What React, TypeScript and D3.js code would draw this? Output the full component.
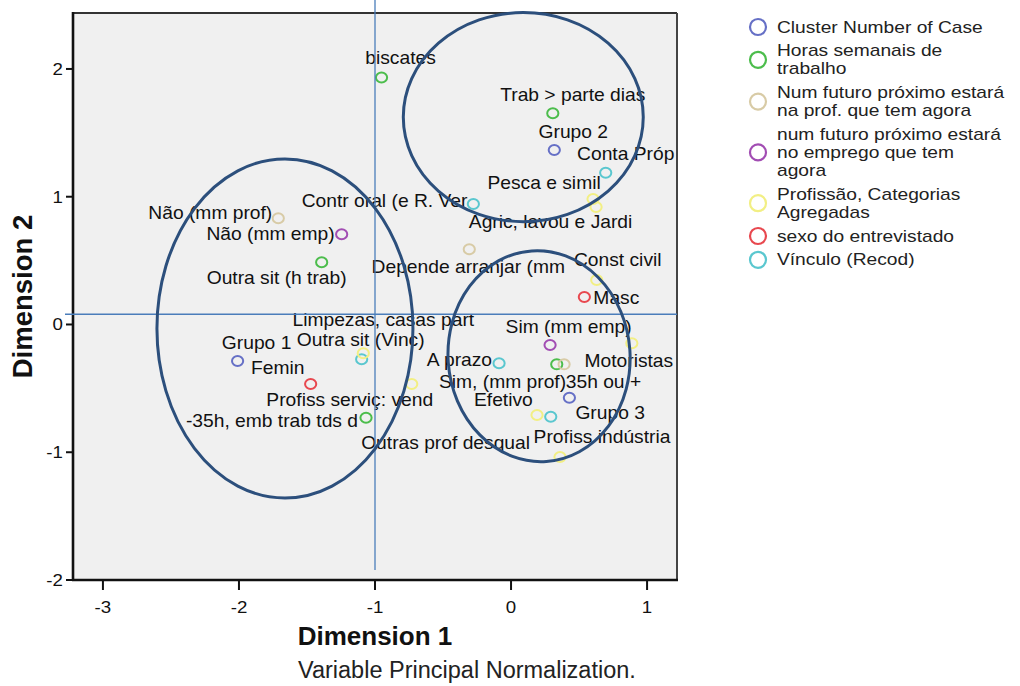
import React from "react";
import * as d3 from "d3";

// ---------- DATA ----------
const variables = [
  "Cluster Number of Case",
  "Horas semanais de trabalho",
  "Num futuro próximo estará na prof. que tem agora",
  "num futuro próximo estará no emprego que tem agora",
  "Profissão, Categorias Agregadas",
  "sexo do entrevistado",
  "Vínculo (Recod)",
];
const legendLines = [
  ["Cluster Number of Case"],
  ["Horas semanais de", "trabalho"],
  ["Num futuro próximo estará", "na prof. que tem agora"],
  ["num futuro próximo estará", "no emprego que tem", "agora"],
  ["Profissão, Categorias", "Agregadas"],
  ["sexo do entrevistado"],
  ["Vínculo (Recod)"],
];
const variableColors = ["#6670c6", "#4cbd4c", "#d8cba6", "#a24db3", "#f2ef84", "#e8484f", "#5ac7cf"];

const categories = [
  "biscates", "Trab > parte dias", "Grupo 2", "Conta Próp", "Pesca e simil",
  "Agric, lavou e Jardi", "Contr oral (e R. Ver", "Depende arranjar (mm", "Const civil", "Masc",
  "Não (mm prof)", "Não (mm emp)", "Outra sit (h trab)", "Grupo 1", "Femin",
  "Outra sit (Vinc)", "Limpezas, casas part", "Profiss serviç: vend", "-35h, emb trab tds d", "Outras prof desqual",
  "Profiss indústria", "Sim (mm emp)", "35h ou +", "Sim, (mm prof)", "Motoristas",
  "Grupo 3", "Efetivo", "A prazo",
];
const categoryVariable = [
  1, 1, 0, 6, 4,
  4, 6, 2, 4, 5,
  2, 3, 1, 0, 5,
  6, 4, 4, 1, 4,
  4, 3, 1, 2, 4,
  0, 6, 6,
];
const dimension1 = [
  -0.952, 0.307, 0.318, 0.696, 0.603,
  0.625, -0.277, -0.307, 0.630, 0.539,
  -1.711, -1.245, -1.392, -2.010, -1.473,
  -1.098, -1.086, -0.730, -1.066, 0.191,
  0.360, 0.287, 0.336, 0.390, 0.888,
  0.429, 0.292, -0.088,
];
const dimension2 = [
  1.933, 1.653, 1.366, 1.188, 0.982,
  0.920, 0.943, 0.589, 0.348, 0.215,
  0.831, 0.706, 0.487, -0.286, -0.466,
  -0.272, -0.225, -0.466, -0.730, -0.708,
  -1.037, -0.160, -0.312, -0.312, -0.147,
  -0.573, -0.722, -0.304,
];
const xTicks = [-3, -2, -1, 0, 1];
const yTicks = [-2, -1, 0, 1, 2];

// annotations (data units)
const refLineX = -1;
const refLineY = 0.08;
const clusterEllipses = [
  { cx: -1.662, cy: -0.031, rx: 0.941, ry: 1.327, rot: 0 },
  { cx: 0.09, cy: 1.623, rx: 0.882, ry: 0.818, rot: 0 },
  { cx: 0.206, cy: -0.248, rx: 0.669, ry: 0.826, rot: -4 },
];

// label layout (anchor, pixel offset from marker to label centre-line)
const labelLayout: Record<string, [string, number, number]> = {
  "biscates": ["middle", 19, -19.5],
  "Trab > parte dias": ["middle", 20, -18],
  "Grupo 2": ["middle", 19, -18],
  "Conta Próp": ["middle", 20, -19],
  "Pesca e simil": ["middle", -49, -16],
  "Agric, lavou e Jardi": ["middle", -45.5, 15],
  "Contr oral (e R. Ver": ["end", -6, -3],
  "Depende arranjar (mm": ["middle", -1, 18],
  "Const civil": ["middle", 21, -20],
  "Masc": ["start", 9, 1],
  "Não (mm prof)": ["end", -6, -5],
  "Não (mm emp)": ["end", -7, 0],
  "Outra sit (h trab)": ["middle", -45, 16],
  "Grupo 1": ["middle", 19, -18],
  "Femin": ["middle", -33, -16],
  "Outra sit (Vinc)": ["middle", -1, -19],
  "Limpezas, casas part": ["middle", 20, -33],
  "Profiss serviç: vend": ["middle", -62, 16],
  "-35h, emb trab tds d": ["end", -8, 3],
  "Outras prof desqual": ["end", -7, 28],
  "Profiss indústria": ["middle", 42, -20],
  "Sim (mm emp)": ["middle", 18.5, -18],
  "35h ou +": ["start", 9, 17.5],
  "Sim, (mm prof)": ["end", 2, 17.5],
  "Motoristas": ["middle", -3, 18],
  "Grupo 3": ["start", 6, 15],
  "Efetivo": ["end", -18, -17],
  "A prazo": ["end", -7, -3],
};

// ---------- LAYOUT ----------
const W = 1020, H = 686;
const plot = { left: 73, right: 677, top: 13, bottom: 580 };
const FONT = "'Liberation Sans', Arial, sans-serif";

function SText(props: { x: number; y: number; anchor?: string; size: number; children: any; weight?: any; fill?: string; sx?: number }) {
  const { x, y, anchor = "start", size, children, weight = "normal", fill = "#111", sx = 1.1 } = props;
  return (
    <text
      transform={`translate(${x},${y}) scale(${sx},1)`}
      textAnchor={anchor as any}
      fontSize={size}
      fontWeight={weight}
      fill={fill}
      fontFamily={FONT}
    >
      {children}
    </text>
  );
}

export default function App() {
  const x = d3.scaleLinear().domain([-3.22, 1.22]).range([plot.left, plot.right]);
  const y = d3.scaleLinear().domain([-2, 2.438]).range([plot.bottom, plot.top]);
  const unitX = x(1) - x(0);
  const unitY = y(0) - y(1);

  const points = categories.map((c, i) => ({
    name: c,
    v: categoryVariable[i],
    px: x(dimension1[i]),
    py: y(dimension2[i]),
  }));

  const lh = 18;
  const gap = 5.8;
  let cursor = 27;
  const legendItems = legendLines.map((lines, i) => {
    const first = cursor;
    cursor += lines.length * lh + gap;
    return { lines, first, color: variableColors[i], name: variables[i] };
  });

  return (
    <svg width={W} height={H} style={{ position: "absolute", left: 0, top: 0, background: "#fff" }} fontFamily={FONT}>
      <rect x={0} y={0} width={W} height={H} fill="#fff" />
      {/* plot background */}
      <rect x={plot.left} y={plot.top} width={plot.right - plot.left} height={plot.bottom - plot.top} fill="#f0f0f0" />

      {/* markers */}
      {points.map((p, i) => (
        <ellipse key={"m" + i} cx={p.px} cy={p.py} rx={5.6} ry={5} fill="none" stroke={variableColors[p.v]} strokeWidth={2} />
      ))}
      {/* labels */}
      {points.map((p, i) => {
        const [anchor, dx, dy] = labelLayout[p.name];
        return (
          <SText key={"l" + i} x={p.px + dx} y={p.py + dy + 6} anchor={anchor} size={17.5}>
            {p.name}
          </SText>
        );
      })}

      {/* frame */}
      <line x1={plot.left} x2={plot.right} y1={plot.top} y2={plot.top} stroke="#333" strokeWidth={2} />
      <line x1={plot.right} x2={plot.right} y1={plot.top} y2={plot.bottom} stroke="#444" strokeWidth={2} />
      <line x1={plot.left} x2={plot.left} y1={plot.top - 1} y2={plot.bottom + 1} stroke="#111" strokeWidth={2.6} />
      <line x1={plot.left - 1} x2={plot.right + 1} y1={plot.bottom} y2={plot.bottom} stroke="#111" strokeWidth={2.6} />

      {/* y ticks */}
      {yTicks.map((t) => (
        <g key={"yt" + t}>
          <line x1={plot.left - 7} x2={plot.left} y1={y(t)} y2={y(t)} stroke="#111" strokeWidth={2} />
          <SText x={plot.left - 10} y={y(t) + 6} anchor="end" size={17}>
            {String(t)}
          </SText>
        </g>
      ))}
      {/* x ticks */}
      {xTicks.map((t) => (
        <g key={"xt" + t}>
          <line x1={x(t)} x2={x(t)} y1={plot.bottom} y2={plot.bottom + 10} stroke="#111" strokeWidth={2} />
          <SText x={x(t)} y={613} anchor="middle" size={17}>
            {String(t)}
          </SText>
        </g>
      ))}

      {/* axis titles */}
      <text x={(plot.left + plot.right) / 2} y={645} textAnchor="middle" fontSize={26} fontWeight="bold" fill="#111" fontFamily={FONT}>
        Dimension 1
      </text>
      <text x={298} y={678} textAnchor="start" fontSize={23.5} fill="#222" fontFamily={FONT}>
        Variable Principal Normalization.
      </text>
      <text
        transform={`translate(32,${(plot.top + plot.bottom) / 2}) rotate(-90)`}
        textAnchor="middle"
        fontSize={27.5}
        fontWeight="bold"
        fill="#111"
        fontFamily={FONT}
      >
        Dimension 2
      </text>

      {/* reference lines */}
      <line x1={x(refLineX)} x2={x(refLineX)} y1={0} y2={570} stroke="#4a7dba" strokeWidth={1.3} />
      <line x1={65} x2={plot.right} y1={y(refLineY)} y2={y(refLineY)} stroke="#4a7dba" strokeWidth={1.3} />

      {/* cluster ellipses */}
      {clusterEllipses.map((e, i) => (
        <ellipse
          key={"e" + i}
          cx={x(e.cx)}
          cy={y(e.cy)}
          rx={e.rx * unitX}
          ry={e.ry * unitY}
          transform={`rotate(${e.rot},${x(e.cx)},${y(e.cy)})`}
          fill="none"
          stroke="#2c4f7c"
          strokeWidth={3}
        />
      ))}

      {/* legend */}
      {legendItems.map((it, i) => {
        const mid = it.first + ((it.lines.length - 1) * lh) / 2;
        return (
          <g key={"lg" + i}>
            <circle cx={758} cy={mid} r={8} fill="none" stroke={it.color} strokeWidth={2.2} />
            {it.lines.map((ln, j) => (
              <SText key={j} x={777} y={it.first + j * lh + 5.5} size={16} sx={1.2} fill="#222">
                {ln}
              </SText>
            ))}
          </g>
        );
      })}
    </svg>
  );
}
